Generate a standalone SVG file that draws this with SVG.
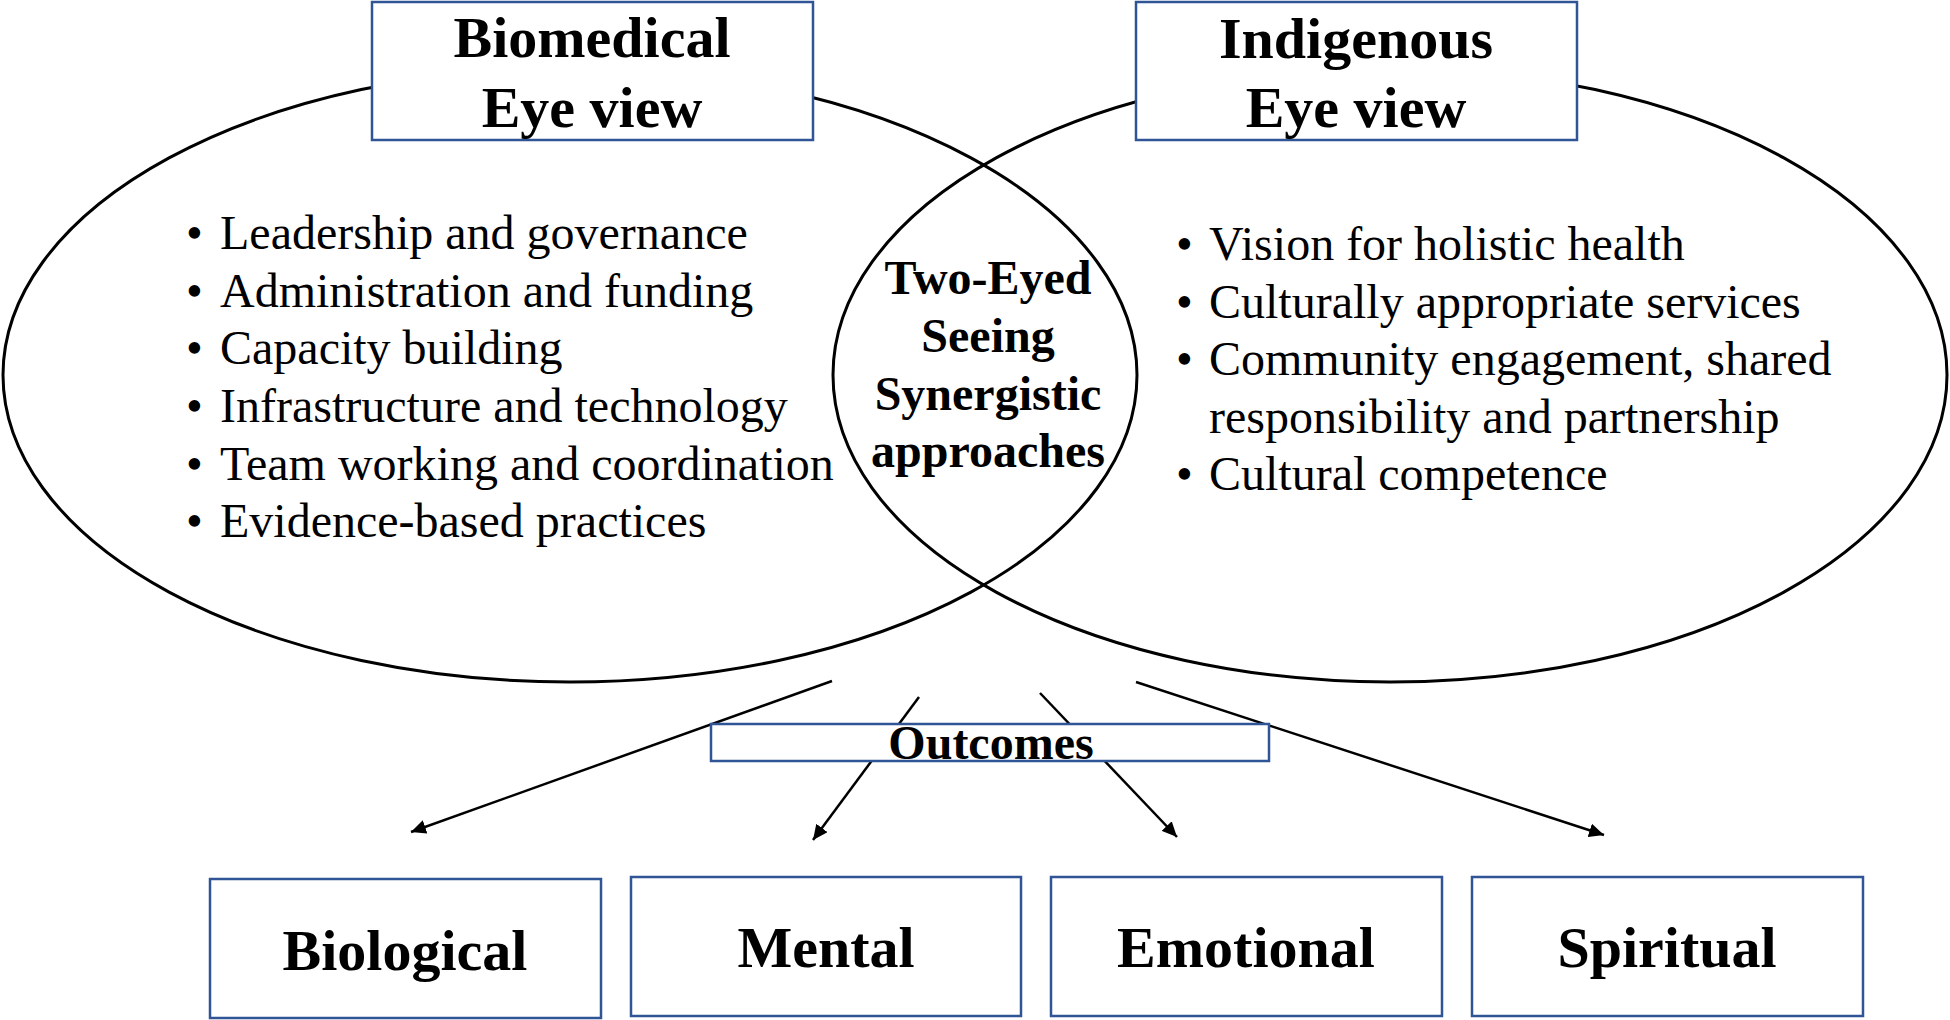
<svg xmlns="http://www.w3.org/2000/svg" width="1950" height="1020" viewBox="0 0 1950 1020">
<style>
.ell{fill:none;stroke:#000;stroke-width:3}
.box{fill:#fff;stroke:#2F5597;stroke-width:2.5}
.conn{stroke:#000;stroke-width:2.5;fill:none}
.t{font-family:"Liberation Serif","Times New Roman",serif;fill:#000}
.h{font-size:58px;font-weight:bold;text-anchor:middle}
.c{font-size:48px;font-weight:bold;text-anchor:middle}
.b{font-size:48px}
</style>
<defs>
<marker id="ah" markerUnits="userSpaceOnUse" markerWidth="16" markerHeight="14" refX="15" refY="7" orient="auto">
<path d="M0,0 L15,7 L0,14 z" fill="#000"/>
</marker>
</defs>
<rect width="1950" height="1020" fill="#fff"/>
<g id="ellipse-biomedical"><ellipse class="ell" cx="570" cy="375" rx="567" ry="307"/></g>
<g id="ellipse-indigenous"><ellipse class="ell" cx="1390" cy="375" rx="557" ry="307"/></g>
<g id="biomedical-box">
<rect class="box" x="372" y="2" width="441" height="138"/>
<text class="t h" x="592" y="57">Biomedical</text>
<text class="t h" x="592" y="127">Eye view</text>
</g>
<g id="indigenous-box">
<rect class="box" x="1136" y="2" width="441" height="138"/>
<text class="t h" x="1356" y="58">Indigenous</text>
<text class="t h" x="1356" y="127">Eye view</text>
</g>
<g id="biomedical-list" class="t b">
<text x="186" y="249">•</text><text x="220" y="249">Leadership and governance</text>
<text x="186" y="307">•</text><text x="220" y="307">Administration and funding</text>
<text x="186" y="364">•</text><text x="220" y="364">Capacity building</text>
<text x="186" y="422">•</text><text x="220" y="422">Infrastructure and technology</text>
<text x="186" y="480">•</text><text x="220" y="480">Team working and coordination</text>
<text x="186" y="537">•</text><text x="220" y="537">Evidence-based practices</text>
</g>
<g id="indigenous-list" class="t b">
<text x="1176" y="260">•</text><text x="1209" y="260">Vision for holistic health</text>
<text x="1176" y="318">•</text><text x="1209" y="318">Culturally appropriate services</text>
<text x="1176" y="375">•</text><text x="1209" y="375">Community engagement, shared</text>
<text x="1209" y="433">responsibility and partnership</text>
<text x="1176" y="490">•</text><text x="1209" y="490">Cultural competence</text>
</g>
<g id="two-eyed-seeing" class="t c">
<text x="988" y="294">Two-Eyed</text>
<text x="988" y="352">Seeing</text>
<text x="988" y="410">Synergistic</text>
<text x="988" y="467">approaches</text>
</g>
<g id="connectors">
<line class="conn" x1="832" y1="681" x2="411" y2="832" marker-end="url(#ah)"/>
<line class="conn" x1="919" y1="697" x2="813" y2="840" marker-end="url(#ah)"/>
<line class="conn" x1="1040" y1="693" x2="1177" y2="837" marker-end="url(#ah)"/>
<line class="conn" x1="1136" y1="682" x2="1604" y2="835" marker-end="url(#ah)"/>
</g>
<g id="outcomes">
<rect class="box" x="711" y="724" width="558" height="37"/>
<text class="t c" x="991" y="759">Outcomes</text>
</g>
<g id="biological">
<rect class="box" x="210" y="879" width="391" height="139"/>
<text class="t h" x="405" y="970">Biological</text>
</g>
<g id="mental">
<rect class="box" x="631" y="877" width="390" height="139"/>
<text class="t h" x="826" y="967">Mental</text>
</g>
<g id="emotional">
<rect class="box" x="1051" y="877" width="391" height="139"/>
<text class="t h" x="1246" y="967">Emotional</text>
</g>
<g id="spiritual">
<rect class="box" x="1472" y="877" width="391" height="139"/>
<text class="t h" x="1667" y="967">Spiritual</text>
</g>
</svg>
